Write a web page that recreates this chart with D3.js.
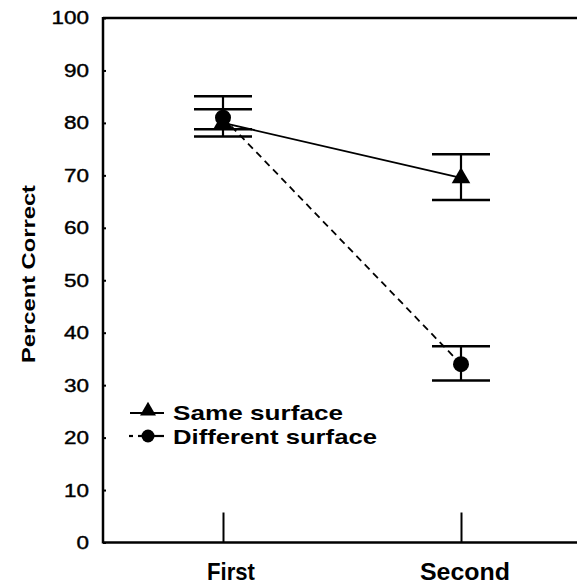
<!DOCTYPE html>
<html>
<head>
<meta charset="utf-8">
<script src="https://cdn.jsdelivr.net/npm/d3@7"></script>
<style>
  html, body { margin: 0; padding: 0; background: #fff; }
  svg { display: block; }
  text { font-family: Arial, "Liberation Sans", sans-serif; fill: #000; }
</style>
</head>
<body>
<svg id="chart" width="577" height="585"></svg>
<script>
// ---- data ----
const categories = ["First", "Second"];
const sameMean = [80, 69.5];
const sameLow  = [78.8, 65.3];
const sameHigh = [82.6, 74.0];
const diffMean = [81, 34];
const diffLow  = [77.4, 30.9];
const diffHigh = [85.1, 37.4];
const yTicks = [0, 10, 20, 30, 40, 50, 60, 70, 80, 90, 100];
const seriesNames = ["Same surface", "Different surface"];
const yTitle = "Percent Correct";

// ---- layout ----
const svg = d3.select("#chart");
const mLeft = 103, mRight = 577, mTop = 18, mBottom = 542.5;

const y = d3.scaleLinear().domain([0, 100]).range([mBottom, mTop]);
const x = d3.scalePoint().domain(categories).range([223, 461]);

// y axis with inward ticks
const yAxis = d3.axisRight(y).tickValues(yTicks).tickSize(3).tickFormat("");
const gy = svg.append("g").attr("transform", `translate(${mLeft},0)`).call(yAxis);
gy.select(".domain").remove();
gy.selectAll(".tick line").attr("stroke", "#000").attr("stroke-width", 2);

svg.append("line").attr("x1", mLeft).attr("x2", mLeft).attr("y1", mTop - 1).attr("y2", mBottom + 1)
  .attr("stroke", "#000").attr("stroke-width", 2.5);
svg.append("line").attr("x1", mLeft).attr("x2", mRight).attr("y1", mTop).attr("y2", mTop)
  .attr("stroke", "#000").attr("stroke-width", 2.5);
svg.append("line").attr("x1", mLeft).attr("x2", mRight).attr("y1", mBottom).attr("y2", mBottom)
  .attr("stroke", "#000").attr("stroke-width", 2.5);

// y tick labels
svg.selectAll(".ylab").data(yTicks).enter().append("text")
  .attr("x", 89).attr("y", d => y(d)).attr("dy", "0.36em")
  .attr("text-anchor", "end").attr("font-size", 18)
  .attr("stroke", "#000").attr("stroke-width", 0.4)
  .attr("textLength", d => String(d).length * 12.5)
  .attr("lengthAdjust", "spacingAndGlyphs")
  .text(d => d);

// x axis ticks (upward, inside)
const xAxis = d3.axisTop(x).tickSize(30).tickFormat("");
const gx = svg.append("g").attr("transform", `translate(0,${mBottom})`).call(xAxis);
gx.select(".domain").remove();
gx.selectAll(".tick line").attr("stroke", "#000").attr("stroke-width", 2);

// x labels
const xLabW = {First: 48, Second: 90};
const xLabOff = {First: 8, Second: 4};
svg.selectAll(".xlab").data(categories).enter().append("text")
  .attr("x", d => x(d) + xLabOff[d]).attr("y", 580)
  .attr("text-anchor", "middle").attr("font-size", 24).attr("font-weight", "bold")
  .attr("textLength", d => xLabW[d]).attr("lengthAdjust", "spacingAndGlyphs")
  .text(d => d);

// y title
svg.append("text")
  .attr("transform", `translate(35,274) rotate(-90)`)
  .attr("text-anchor", "middle").attr("font-size", 19).attr("font-weight", "bold")
  .attr("textLength", 178).attr("lengthAdjust", "spacingAndGlyphs")
  .text(yTitle);

// error bars
function errBars(means, lows, highs) {
  categories.forEach((c, i) => {
    const cx = x(c);
    svg.append("line").attr("x1", cx).attr("x2", cx).attr("y1", y(highs[i])).attr("y2", y(lows[i]))
      .attr("stroke", "#000").attr("stroke-width", 2.2);
    [highs[i], lows[i]].forEach(v => {
      svg.append("line").attr("x1", cx - 29).attr("x2", cx + 29).attr("y1", y(v)).attr("y2", y(v))
        .attr("stroke", "#000").attr("stroke-width", 2.5);
    });
  });
}
errBars(sameMean, sameLow, sameHigh);
errBars(diffMean, diffLow, diffHigh);

// lines
const line = d3.line().x((d, i) => x(categories[i])).y(d => y(d));
svg.append("path").datum(diffMean).attr("d", line).attr("fill", "none")
  .attr("stroke", "#000").attr("stroke-width", 1.8).attr("stroke-dasharray", "7,5");
svg.append("path").datum(sameMean).attr("d", line).attr("fill", "none")
  .attr("stroke", "#000").attr("stroke-width", 1.8);

// markers
const tri = d3.symbol().type(d3.symbolTriangle).size(150);
svg.selectAll(".tri").data(sameMean).enter().append("path")
  .attr("d", tri).attr("transform", (d, i) => `translate(${x(categories[i])},${y(d)})`)
  .attr("fill", "#000");
svg.selectAll(".dot").data(diffMean).enter().append("circle")
  .attr("cx", (d, i) => x(categories[i])).attr("cy", d => y(d)).attr("r", 8)
  .attr("fill", "#000");

// legend
const lg = svg.append("g");
lg.append("line").attr("x1", 130).attr("x2", 164).attr("y1", 413).attr("y2", 413)
  .attr("stroke", "#000").attr("stroke-width", 2.2);
lg.append("path").attr("d", d3.symbol().type(d3.symbolTriangle).size(110)())
  .attr("transform", "translate(148,411)").attr("fill", "#000");
lg.append("line").attr("x1", 129).attr("x2", 133).attr("y1", 436).attr("y2", 436)
  .attr("stroke", "#000").attr("stroke-width", 2.2);
lg.append("line").attr("x1", 138).attr("x2", 164).attr("y1", 436).attr("y2", 436)
  .attr("stroke", "#000").attr("stroke-width", 2.2);
lg.append("circle").attr("cx", 148).attr("cy", 436).attr("r", 6.5).attr("fill", "#000");
const legW = [170, 204];
lg.selectAll("text").data(seriesNames).enter().append("text")
  .attr("x", 173).attr("y", (d, i) => 420 + i * 23.5)
  .attr("font-size", 21).attr("font-weight", "bold")
  .attr("textLength", (d, i) => legW[i]).attr("lengthAdjust", "spacingAndGlyphs")
  .text(d => d);
</script>
</body>
</html>
